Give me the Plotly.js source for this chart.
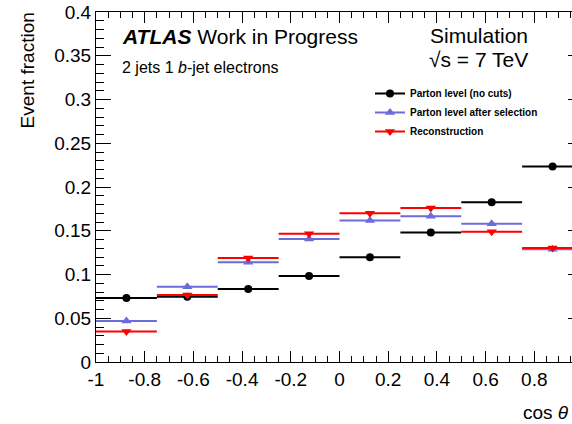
<!DOCTYPE html>
<html>
<head>
<meta charset="utf-8">
<script src="https://cdn.plot.ly/plotly-3.0.1.min.js"></script>
<style>
html, body { margin: 0; padding: 0; overflow: hidden; background: #fff; }
#chart { width: 600px; height: 424px; }
</style>
</head>
<body>
<div id="chart"></div>
<script>
// ---- data ----
const binLow = [-1.0, -0.75, -0.5, -0.25, 0.0, 0.25, 0.5, 0.75];
const binWidth = 0.25;
const partonNoCuts = [0.0732, 0.0747, 0.0835, 0.0984, 0.1197, 0.1480, 0.1827, 0.2235];
const partonSelected = [0.0470, 0.0860, 0.1140, 0.1407, 0.1617, 0.1667, 0.1580, 0.1290];
const reconstruction = [0.0350, 0.0767, 0.1190, 0.1465, 0.1700, 0.1760, 0.1490, 0.1304];
const seriesNames = ['Parton level (no cuts)', 'Parton level after selection', 'Reconstruction'];
const xTickVals = [-1, -0.8, -0.6, -0.4, -0.2, 0, 0.2, 0.4, 0.6, 0.8];
const xTickText = ['-1', '-0.8', '-0.6', '-0.4', '-0.2', '0', '0.2', '0.4', '0.6', '0.8'];

const binCenters = binLow.map(b => b + binWidth / 2);
const FONT = 'Liberation Sans, Arial, Helvetica, sans-serif';

function series(values, name, color, symbol, size) {
  const data = {
    type: 'scatter', mode: 'markers', x: binCenters, y: values,
    showlegend: false,
    marker: { color: color, symbol: symbol, size: size },
    error_x: { type: 'constant', value: binWidth / 2, width: 0, thickness: 2, color: color },
    hoverinfo: 'skip'
  };
  const legendEntry = {
    type: 'scatter', mode: 'lines+markers', x: [null], y: [null],
    name: '<b>' + name + '</b>', showlegend: true,
    line: { color: color, width: 2 },
    marker: { color: color, symbol: symbol, size: size }
  };
  return [data, legendEntry];
}

const traces = [].concat(
  series(partonNoCuts, seriesNames[0], '#000000', 'circle', 8),
  series(partonSelected, seriesNames[1], '#6b6bdc', 'triangle-up', 9),
  series(reconstruction, seriesNames[2], '#ff0000', 'triangle-down', 9)
);
const ordered = [traces[0], traces[2], traces[4], traces[1], traces[3], traces[5]];

const W = 600, H = 424, L = 96, R = 17, T = 12, B = 62;
const pw = W - L - R, ph = H - T - B;
const px = x => (x - L) / pw;
const py = y => (H - B - y) / ph;

const layout = {
  width: W, height: H,
  margin: { l: L, r: R, t: T, b: B, pad: 0 },
  paper_bgcolor: '#fff', plot_bgcolor: '#fff',
  font: { family: FONT, color: '#000' },
  showlegend: true,
  legend: {
    x: px(370), y: py(79), xanchor: 'left', yanchor: 'top',
    bgcolor: 'rgba(0,0,0,0)', borderwidth: 0,
    font: { family: FONT, size: 10, color: '#000' },
    itemwidth: 30, tracegroupgap: 0
  },
  xaxis: {
    range: [-1, 1], tickvals: xTickVals, ticktext: xTickText,
    ticks: 'inside', ticklen: 11, tickwidth: 1, tickcolor: '#000',
    showline: true, linecolor: '#000', linewidth: 1, mirror: 'allticks',
    showgrid: false, zeroline: false,
    tickfont: { family: FONT, size: 19, color: '#000' },
    minor: { dtick: 0.05, tick0: -1, ticks: 'inside', ticklen: 6, tickwidth: 1, tickcolor: '#000', showgrid: false }
  },
  yaxis: {
    range: [0, 0.4], dtick: 0.05, tick0: 0,
    ticks: 'inside', ticklen: 15, tickwidth: 1, tickcolor: '#000',
    showline: true, linecolor: '#000', linewidth: 1, mirror: 'allticks',
    showgrid: false, zeroline: false,
    tickfont: { family: FONT, size: 19, color: '#000' },
    minor: { dtick: 0.01, tick0: 0, ticks: 'inside', ticklen: 8, tickwidth: 1, tickcolor: '#000', showgrid: false }
  },
  annotations: [
    { text: '<b><i>ATLAS</i></b> Work in Progress', xref: 'paper', yref: 'paper',
      x: px(119.5), y: py(36), xanchor: 'left', yanchor: 'middle', showarrow: false,
      font: { family: FONT, size: 21, color: '#000' } },
    { text: '2 jets 1 <i>b</i>-jet electrons', xref: 'paper', yref: 'paper',
      x: px(119.5), y: py(67.4), xanchor: 'left', yanchor: 'middle', showarrow: false,
      font: { family: FONT, size: 16, color: '#000' } },
    { text: 'Simulation', xref: 'paper', yref: 'paper',
      x: px(427.5), y: py(35), xanchor: 'left', yanchor: 'middle', showarrow: false,
      font: { family: FONT, size: 21, color: '#000' } },
    { text: '√s = 7 TeV', xref: 'paper', yref: 'paper',
      x: px(427), y: py(59.5), xanchor: 'left', yanchor: 'middle', showarrow: false,
      font: { family: FONT, size: 21, color: '#000' } },
    { text: 'Event fraction', xref: 'paper', yref: 'paper', textangle: -90,
      x: px(28.4), y: py(10), xanchor: 'center', yanchor: 'top', showarrow: false,
      font: { family: FONT, size: 19, color: '#000' } },
    { text: 'cos <i>θ</i>', xref: 'paper', yref: 'paper',
      x: px(571), y: py(412), xanchor: 'right', yanchor: 'middle', showarrow: false,
      font: { family: FONT, size: 19, color: '#000' } }
  ]
};

Plotly.newPlot('chart', ordered, layout, { staticPlot: true, displayModeBar: false });
</script>
</body>
</html>
